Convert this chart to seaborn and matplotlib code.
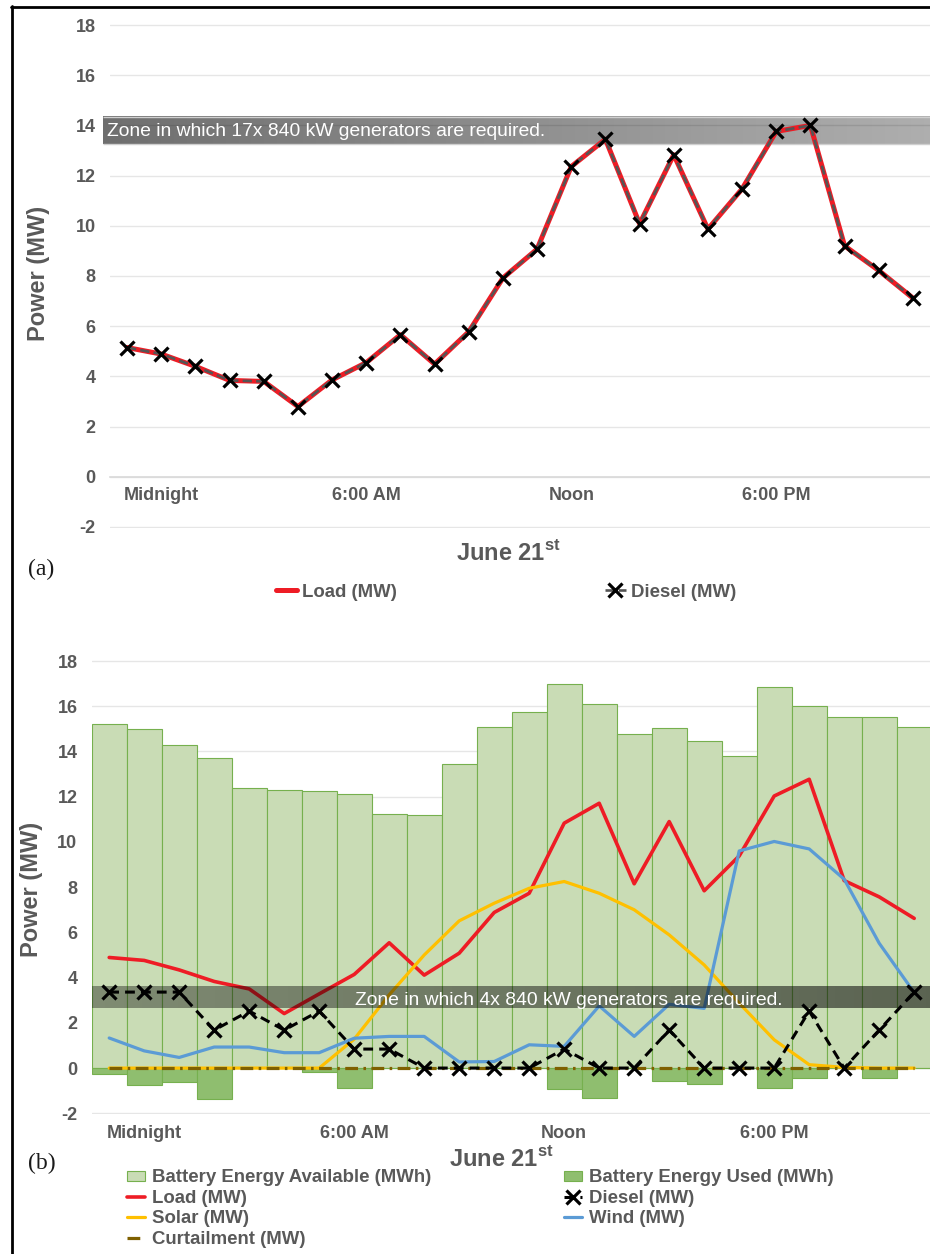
import numpy as np
import pandas as pd
import seaborn as sns
import matplotlib.pyplot as plt
from matplotlib.lines import Line2D
from matplotlib.patches import Patch

# ---------------------------------------------------------------- data
hours = list(range(24))
tick_pos = [1, 7, 13, 19]
tick_labels = ["Midnight", "6:00 AM", "Noon", "6:00 PM"]

# (a) diesel-only supply
load_a = [5.15, 4.89, 4.40, 3.84, 3.80, 2.80, 3.86, 4.55, 5.66, 4.49, 5.78, 7.92,
          9.07, 12.36, 13.45, 10.08, 12.83, 9.87, 11.47, 13.76, 14.00, 9.20, 8.22, 7.12]
diesel_a = [5.15, 4.89, 4.40, 3.84, 3.80, 2.80, 3.86, 4.55, 5.66, 4.49, 5.78, 7.92,
            9.07, 12.36, 13.45, 10.08, 12.83, 9.87, 11.47, 13.76, 14.00, 9.20, 8.22, 7.12]
zone_a = (13.27, 14.35)
zone_a_text = "Zone in which 17x 840 kW generators are required."

# (b) hybrid supply with battery
battery_avail = [15.20, 14.98, 14.27, 13.70, 12.37, 12.28, 12.27, 12.11, 11.22, 11.18, 13.43, 15.07,
                 15.74, 16.98, 16.10, 14.76, 15.02, 14.45, 13.79, 16.84, 16.00, 15.51, 15.51, 15.07]
battery_used = [-0.25, -0.74, -0.63, -1.36, 0.0, 0.0, -0.18, -0.90, 0.0, 0.0, 0.0, 0.0,
                0.0, -0.91, -1.33, 0.0, -0.56, -0.71, 0.0, -0.88, -0.46, 0.0, -0.44, 0.0]
load_b = [4.89, 4.76, 4.34, 3.83, 3.50, 2.41, 3.28, 4.14, 5.54, 4.11, 5.08, 6.88,
          7.73, 10.83, 11.71, 8.15, 10.90, 7.84, 9.38, 12.03, 12.77, 8.29, 7.57, 6.62]
diesel_b = [3.36, 3.36, 3.36, 1.68, 2.52, 1.68, 2.52, 0.84, 0.84, 0.0, 0.0, 0.0,
            0.0, 0.84, 0.0, 0.0, 1.68, 0.0, 0.0, 0.0, 2.52, 0.0, 1.68, 3.36]
solar_b = [0.0, 0.0, 0.0, 0.0, 0.0, 0.0, 0.0, 1.28, 3.24, 5.00, 6.51, 7.29,
           7.95, 8.25, 7.73, 7.00, 5.89, 4.56, 2.87, 1.25, 0.15, 0.03, 0.0, 0.0]
wind_b = [1.33, 0.76, 0.47, 0.93, 0.93, 0.68, 0.68, 1.32, 1.40, 1.40, 0.27, 0.29,
          1.03, 0.96, 2.75, 1.40, 2.82, 2.64, 9.60, 10.02, 9.69, 8.35, 5.52, 3.34]
curtail_b = [0.0] * 24
zone_b = (2.65, 3.58)
zone_b_text = "Zone in which 4x 840 kW generators are required."

# ---------------------------------------------------------------- style
sns.set_style("white")
plt.rcParams["font.family"] = ["Liberation Sans", "DejaVu Sans"]
plt.rcParams["mathtext.fontset"] = "custom"
plt.rcParams["mathtext.rm"] = "Liberation Sans:bold"
plt.rcParams["axes.unicode_minus"] = False

GREY_TXT = "#595959"
RED = "#ee1c25"
SOLAR = "#ffc000"
WIND = "#5b9bd5"
CURT = "#7f6000"
GREEN_LIGHT = "#c9dcb5"
GREEN_DARK = "#8fbe6f"
GREEN_EDGE = "#76b04e"
GRID = "#e6e6e6"

W, H = 930, 1254
fig = plt.figure(figsize=(W / 100, H / 100), dpi=100)


def fx(x):
    return x / W


def fy(y):
    return 1 - y / H


def make_axes(x0, x1, y_top, y_bot, vtop, vbot, pad=0.05):
    """Axes whose value range [vbot, vtop] spans pixel rows y_top..y_bot."""
    ppu = (y_bot - y_top) / (vtop - vbot)
    top = y_top - pad * ppu
    bot = y_bot + pad * ppu
    ax = fig.add_axes([fx(x0), fy(bot), (x1 - x0) / W, (bot - top) / H])
    ax.set_ylim(vbot - pad, vtop + pad)
    return ax


def style_axes(ax):
    for s in ax.spines.values():
        s.set_visible(False)
    ax.set_yticks(range(-2, 19, 2))
    ax.yaxis.grid(True, color=GRID, lw=1.0)
    ax.xaxis.grid(False)
    ax.set_axisbelow(True)
    ax.tick_params(axis="y", length=0, pad=10.3, labelsize=13, labelcolor=GREY_TXT)
    for lab in ax.get_yticklabels():
        lab.set_fontweight("bold")
    ax.set_xlabel("")
    ax.set_ylabel("")


def gradient_band(ax, x0, x1, y0, y1, a_left, a_right, z):
    grad = np.zeros((1, 256, 4))
    grad[..., 3] = np.linspace(a_left, a_right, 256)
    im = ax.imshow(grad, extent=(x0, x1, y0, y1), aspect="auto",
                   interpolation="bilinear", zorder=z)
    im.set_clip_on(False)
    return im


# ================================================================ panel (a)
ax_a = make_axes(110, 930, 25, 527, 18, -2)
df_a = pd.DataFrame({"hour": hours, "load": load_a, "diesel": diesel_a})

gradient_band(ax_a, -0.705, 23.5, zone_a[0], zone_a[1], 0.57, 0.32, 1.5)
ax_a.hlines(list(zone_a), -0.705, 23.5, color="#cfcfcf", lw=1.0, zorder=1.6, clip_on=False)
ax_a.text(-0.59, 13.56, zone_a_text, color="white", fontsize=13.9,
          ha="left", va="baseline", zorder=2, clip_on=False)

sns.lineplot(data=df_a, x="hour", y="load", ax=ax_a, color=RED, lw=3.6, zorder=3)
sns.lineplot(data=df_a, x="hour", y="diesel", ax=ax_a, color="#555555", lw=1.9,
             linestyle=(0, (3.5, 1.6)), marker="x", markersize=10,
             markeredgewidth=2.3, markeredgecolor="black", zorder=4)

ax_a.set_xlim(-0.5, 23.5)
ax_a.set_ylim(-2.05, 18.05)
style_axes(ax_a)
ax_a.spines["bottom"].set_visible(True)
ax_a.spines["bottom"].set_position(("data", 0))
ax_a.spines["bottom"].set_color("#d9d9d9")
ax_a.spines["bottom"].set_linewidth(1.2)
ax_a.set_xticks(tick_pos)
ax_a.set_xticklabels(tick_labels, fontsize=13, fontweight="bold", color=GREY_TXT)
ax_a.tick_params(axis="x", length=0, pad=7)

# ================================================================ panel (b)
ax_b = make_axes(91.7, 931.7, 661, 1113.3, 18, -2)
df_b = pd.DataFrame({"hour": hours, "avail": battery_avail, "used": battery_used,
                     "load": load_b, "diesel": diesel_b, "solar": solar_b,
                     "wind": wind_b, "curt": curtail_b})

sns.barplot(data=df_b, x="hour", y="avail", ax=ax_b, color=GREEN_LIGHT, saturation=1,
            width=1.0, edgecolor=GREEN_EDGE, linewidth=0.8, errorbar=None, zorder=1)
sns.barplot(data=df_b, x="hour", y="used", ax=ax_b, color=GREEN_DARK, saturation=1,
            width=1.0, edgecolor=GREEN_EDGE, linewidth=0.8, errorbar=None, zorder=1.1)

sns.lineplot(data=df_b, x="hour", y="load", ax=ax_b, color=RED, lw=2.6, zorder=3)
sns.lineplot(data=df_b, x="hour", y="diesel", ax=ax_b, color="black", lw=2.2,
             linestyle=(0, (3.2, 2.0)), marker="x", markersize=10,
             markeredgewidth=2.3, markeredgecolor="black", zorder=3.5)
sns.lineplot(data=df_b, x="hour", y="solar", ax=ax_b, color=SOLAR, lw=2.3, zorder=3.2)
sns.lineplot(data=df_b, x="hour", y="wind", ax=ax_b, color=WIND, lw=2.3, zorder=3.3)
sns.lineplot(data=df_b, x="hour", y="curt", ax=ax_b, color=CURT, lw=2.3,
             linestyle=(0, (4.0, 1.7, 0.8, 1.7)), zorder=3.4)

gradient_band(ax_b, -0.5, 23.5, zone_b[0], zone_b[1], 0.37, 0.55, 5)
ax_b.text(7.02, 2.80, zone_b_text, color="white", fontsize=13.9,
          ha="left", va="baseline", zorder=6)

ax_b.set_xlim(-0.5, 23.5)
ax_b.set_ylim(-2.05, 18.05)
style_axes(ax_b)
ax_b.set_xticks(tick_pos)
ax_b.set_xticklabels(tick_labels, fontsize=13, fontweight="bold", color=GREY_TXT)
ax_b.tick_params(axis="x", length=0, pad=7.5)

# ================================================================ titles & labels
lab_kw = dict(fontsize=17, fontweight="bold", color=GREY_TXT)
fig.text(fx(38), fy(273.5), "Power (MW)", rotation=90, ha="center", va="center", **lab_kw)
fig.text(fx(31.5), fy(889), "Power (MW)", rotation=90, ha="center", va="center", **lab_kw)
fig.text(fx(508.5), fy(560), r"June 21$^{\mathrm{st}}$", ha="center", va="baseline", **lab_kw)
fig.text(fx(501.5), fy(1166), r"June 21$^{\mathrm{st}}$", ha="center", va="baseline", **lab_kw)

panel_kw = dict(fontsize=17, family=["Liberation Serif", "DejaVu Serif"], color="#1a1a1a",
                ha="left", va="center")
fig.text(fx(28), fy(569), "(a)", **panel_kw)
fig.text(fx(28), fy(1163), "(b)", **panel_kw)

# ================================================================ legends
leg_font = dict(family="Liberation Sans", weight="bold", size=13.4)
em = 13.4 / 72 * 100

handles_a = [
    Line2D([], [], color=RED, lw=3.6),
    Line2D([], [], color="#555555", lw=1.9, linestyle=(0, (3.5, 1.6)), marker="x",
           markersize=10, markeredgewidth=2.3, markeredgecolor="black"),
]
fig.legend(handles_a, ["Load (MW)", "Diesel (MW)"], loc="center left",
           bbox_to_anchor=(fx(276), fy(592)), ncol=2, frameon=False, borderpad=0,
           borderaxespad=0, handlelength=21 / em, handletextpad=5 / em,
           columnspacing=208 / em, prop=leg_font, labelcolor=GREY_TXT)

handles_b = [
    Patch(facecolor=GREEN_LIGHT, edgecolor=GREEN_EDGE, lw=0.8),
    Line2D([], [], color=RED, lw=2.6),
    Line2D([], [], color=SOLAR, lw=2.3),
    Line2D([], [], color=CURT, lw=2.3, linestyle=(0, (4.0, 1.7, 0.8, 1.7))),
    Patch(facecolor=GREEN_DARK, edgecolor=GREEN_EDGE, lw=0.8),
    Line2D([], [], color="black", lw=2.2, linestyle=(0, (3.2, 2.0)), marker="x",
           markersize=10, markeredgewidth=2.3, markeredgecolor="black"),
    Line2D([], [], color=WIND, lw=2.3),
]
labels_b = ["Battery Energy Available (MWh)", "Load (MW)", "Solar (MW)", "Curtailment (MW)",
            "Battery Energy Used (MWh)", "Diesel (MW)", "Wind (MW)"]
fig.legend(handles_b, labels_b, loc="upper left", bbox_to_anchor=(fx(127), fy(1169.5)),
           ncol=2, frameon=False, borderpad=0, borderaxespad=0,
           handlelength=18 / em, handleheight=0.45, handletextpad=7 / em,
           columnspacing=133 / em, labelspacing=0.18, prop=leg_font, labelcolor=GREY_TXT)

# ================================================================ frame
fig.add_artist(Line2D([fx(11), fx(935)], [fy(7.3), fy(7.3)], color="black", lw=2.0,
                      transform=fig.transFigure))
fig.add_artist(Line2D([fx(11.5), fx(11.5)], [fy(6.3), fy(1260)], color="black", lw=2.0,
                      transform=fig.transFigure))

fig.savefig("out.png", dpi=100, facecolor="white")
